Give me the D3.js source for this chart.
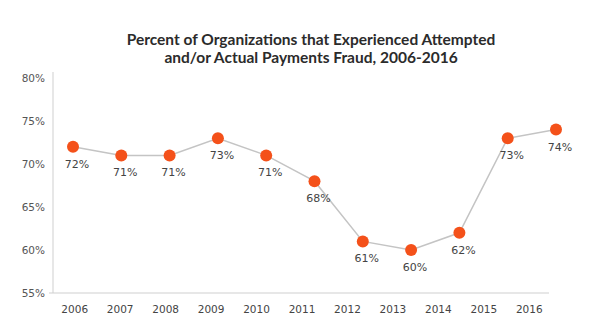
<!DOCTYPE html>
<html>
<head>
<meta charset="utf-8">
<script src="https://cdn.jsdelivr.net/npm/d3@7"></script>
<style>
  html, body { margin: 0; padding: 0; background: #fff; }
  svg { display: block; }
</style>
</head>
<body>
<svg id="chart" width="600" height="336"></svg>
<script>
// Survey results, one value per year
const years = ["2006", "2007", "2008", "2009", "2010", "2011", "2012", "2013", "2014", "2015", "2016"];
const fraudPct = [72, 71, 71, 73, 71, 68, 61, 60, 62, 73, 74];
const yTicks = [55, 60, 65, 70, 75, 80];
const titleLines = [
  "Percent of Organizations that Experienced Attempted",
  "and/or Actual Payments Fraud, 2006-2016"
];

const svg = d3.select("#chart");
const W = 600, H = 336;

const axisLeft = 53, axisRight = 549, axisBottom = 293, axisTop = 72;

// category axis (labels centred in bands)
const xBand = d3.scaleBand().domain(years).range([axisLeft - 1, axisRight + 3]);
// marker positions along the line
const xPoint = d3.scalePoint().domain(years).range([73, 556]);
const y = d3.scaleLinear().domain([55, 80]).range([axisBottom, 78]);

// title
svg.append("g")
  .selectAll("text")
  .data(titleLines)
  .join("text")
  .attr("x", 311)
  .attr("y", (d, i) => 45 + i * 18)
  .attr("text-anchor", "middle")
  .attr("font-family", "Lato, 'Open Sans', sans-serif")
  .attr("font-weight", 700)
  .attr("font-size", 15.5)
  .attr("fill", "#2b2b2b")
  .text(d => d);

// y axis
const yAxis = d3.axisLeft(y)
  .tickValues(yTicks)
  .tickSize(0)
  .tickPadding(8)
  .tickFormat(d => d + "%");
const gy = svg.append("g").attr("transform", `translate(${axisLeft},0)`).call(yAxis);
gy.select(".domain").remove();
gy.selectAll("text")
  .attr("font-family", "'DejaVu Sans', Verdana, sans-serif")
  .attr("font-size", 10.5)
  .attr("fill", "#555");
svg.append("line")
  .attr("x1", axisLeft).attr("x2", axisLeft)
  .attr("y1", axisTop).attr("y2", axisBottom)
  .attr("stroke", "#cfcfcf").attr("stroke-width", 1);
svg.append("line")
  .attr("x1", axisLeft - 4).attr("x2", axisLeft)
  .attr("y1", axisBottom).attr("y2", axisBottom)
  .attr("stroke", "#cfcfcf").attr("stroke-width", 1);

// x axis
const xAxis = d3.axisBottom(xBand).tickSize(0).tickPadding(13);
const gx = svg.append("g").attr("transform", `translate(0,${axisBottom})`).call(xAxis);
gx.select(".domain").remove();
gx.selectAll("text")
  .attr("font-family", "'DejaVu Sans', Verdana, sans-serif")
  .attr("font-size", 10.5)
  .attr("fill", "#444");
svg.append("line")
  .attr("x1", axisLeft).attr("x2", axisRight)
  .attr("y1", axisBottom).attr("y2", axisBottom)
  .attr("stroke", "#cfcfcf").attr("stroke-width", 1);

const pts = years.map((yr, i) => ({ yr, v: fraudPct[i] }));

// connecting line
svg.append("path")
  .datum(pts)
  .attr("fill", "none")
  .attr("stroke", "#c4c4c4")
  .attr("stroke-width", 1.5)
  .attr("d", d3.line().x(d => xPoint(d.yr)).y(d => y(d.v)));

// markers
svg.append("g")
  .selectAll("circle")
  .data(pts)
  .join("circle")
  .attr("cx", d => xPoint(d.yr))
  .attr("cy", d => y(d.v))
  .attr("r", 6)
  .attr("fill", "#f4511a");

// value labels
svg.append("g")
  .selectAll("text")
  .data(pts)
  .join("text")
  .attr("x", d => xPoint(d.yr) + 4)
  .attr("y", d => y(d.v) + 21)
  .attr("text-anchor", "middle")
  .attr("font-family", "'DejaVu Sans', Verdana, sans-serif")
  .attr("font-size", 11)
  .attr("fill", "#444")
  .text(d => d.v + "%");
</script>
</body>
</html>
